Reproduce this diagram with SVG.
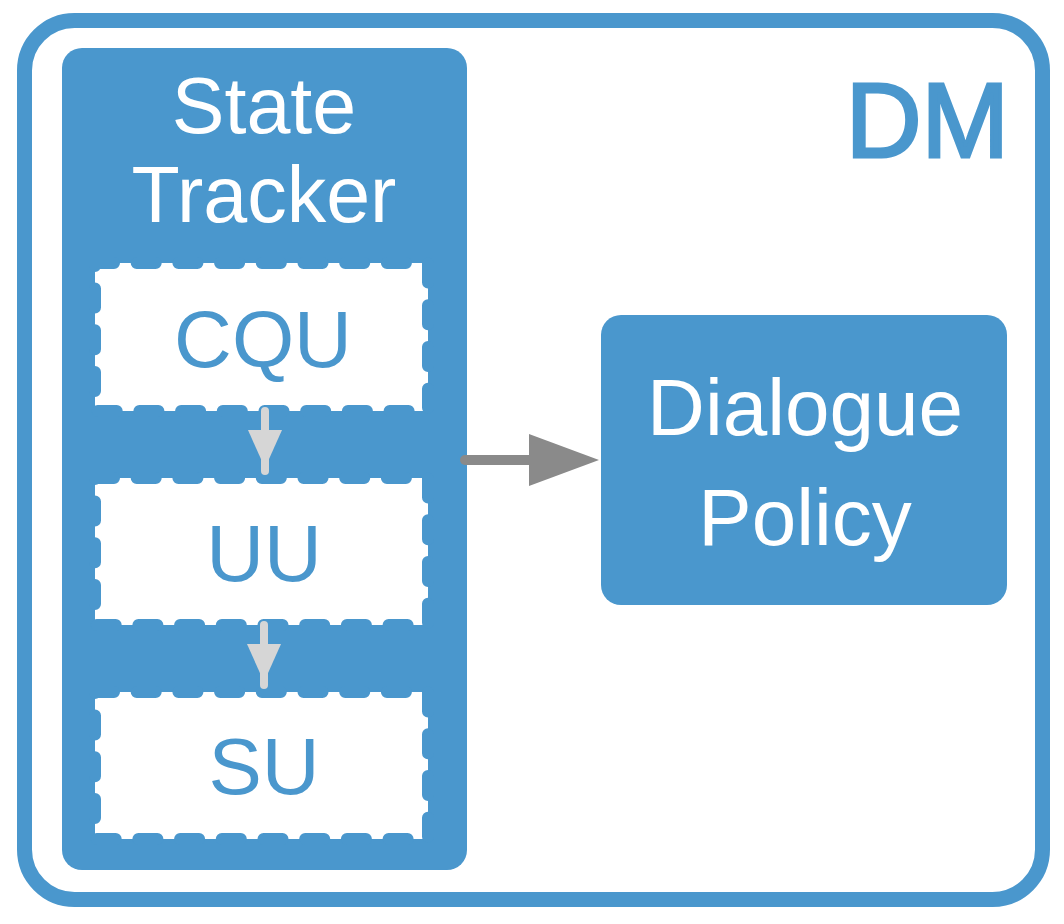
<svg xmlns="http://www.w3.org/2000/svg" width="1064" height="924" viewBox="0 0 1064 924">
<defs>
<style>
.lbl{font-family:"Liberation Sans",Arial,sans-serif;text-anchor:middle}
.w{fill:#ffffff}
.b{fill:#4a97cd}
.sub{fill:#ffffff;stroke:#4a97cd;stroke-width:12;stroke-dasharray:19 22.7;stroke-linecap:round}
.small{stroke:#d6d6d6;stroke-width:8;stroke-linecap:round;fill:none}
</style>
</defs>
<g id="DM">
<rect x="24.5" y="20.5" width="1018" height="879" rx="50" ry="50" fill="#ffffff" stroke="#4a97cd" stroke-width="15"/>
<text class="lbl b" x="1009" y="157" font-size="105" stroke="#4a97cd" stroke-width="3" style="text-anchor:end">DM</text>
</g>
<g id="StateTracker">
<rect x="62" y="48" width="405" height="822" rx="20" ry="20" fill="#4a97cd"/>
<text class="lbl w" x="264" y="133" font-size="79">State</text>
<text class="lbl w" x="264" y="222" font-size="79">Tracker</text>
</g>
<g id="CQU">
<rect class="sub" x="95" y="263" width="333" height="148"/>
<text class="lbl b" x="263" y="367" font-size="80">CQU</text>
</g>
<g id="UU">
<rect class="sub" x="95" y="478" width="333" height="147"/>
<text class="lbl b" x="264" y="581" font-size="80">UU</text>
</g>
<g id="SU">
<rect class="sub" x="95" y="692" width="333" height="147"/>
<text class="lbl b" x="264" y="794" font-size="80">SU</text>
</g>
<g id="DialoguePolicy">
<rect x="601" y="315" width="406" height="290" rx="20" ry="20" fill="#4a97cd"/>
<text class="lbl w" x="805" y="435" font-size="80">Dialogue</text>
<text class="lbl w" x="805" y="545" font-size="80">Policy</text>
</g>
<g id="connectors">
<line x1="265" y1="411" x2="265" y2="471" class="small"/>
<path d="M248,430 L282,430 L265,468 Z" fill="#d6d6d6"/>
<line x1="264" y1="625" x2="264" y2="685" class="small"/>
<path d="M247,644 L281,644 L264,682 Z" fill="#d6d6d6"/>
<line x1="465" y1="460" x2="535" y2="460" stroke="#8a8a8a" stroke-width="10" stroke-linecap="round"/>
<path d="M529,434 L599,460 L529,486 Z" fill="#8a8a8a"/>
</g>
</svg>
